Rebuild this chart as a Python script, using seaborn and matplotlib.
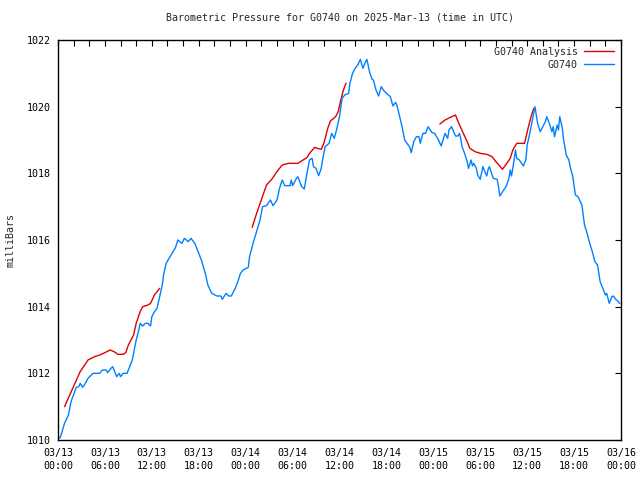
import numpy as np
import pandas as pd
import matplotlib
matplotlib.use("Agg")
import matplotlib.pyplot as plt
import matplotlib.dates as mdates
import seaborn as sns

# ---------------- data ----------------
start = pd.Timestamp("2025-03-13 00:00")

# G0740 observations: minutes after 03/13 00:00 UTC, pressure (mb)
obs_minutes = [10, 20, 50, 80, 100, 140, 160, 170, 190, 210, 230, 270, 320, 340, 370, 380, 400, 420,
               450, 470, 480, 500, 530, 550, 570, 590, 600, 620, 630, 650, 670, 690, 710, 720, 740,
               760, 780, 800, 810, 830, 860, 900, 920, 950, 970, 1000, 1020, 1050, 1070, 1100, 1130,
               1150, 1180, 1220, 1250, 1260, 1290, 1310, 1330, 1360, 1380, 1400, 1420, 1460, 1470,
               1500, 1520, 1550, 1570, 1600, 1630, 1650, 1680, 1700, 1720, 1740, 1780, 1790, 1800,
               1830, 1840, 1870, 1890, 1910, 1930, 1950, 1960, 1980, 2000, 2020, 2030, 2050, 2080,
               2100, 2120, 2140, 2160, 2180, 2200, 2230, 2240, 2260, 2280, 2300, 2320, 2340, 2360,
               2370, 2390, 2410, 2420, 2440, 2460, 2480, 2500, 2520, 2550, 2570, 2590, 2600, 2620,
               2640, 2660, 2700, 2710, 2730, 2750, 2770, 2780, 2800, 2820, 2840, 2870, 2890, 2920,
               2940, 2970, 2990, 3000, 3020, 3030, 3050, 3070, 3080, 3090, 3100, 3120, 3140, 3150,
               3170, 3180, 3190, 3210, 3220, 3240, 3260, 3270, 3290, 3300, 3310, 3340, 3370, 3380,
               3390, 3420, 3440, 3460, 3470, 3480, 3500, 3510, 3520, 3540, 3570, 3590, 3600, 3620,
               3630, 3650, 3660, 3670, 3680, 3700, 3720, 3740, 3750, 3770, 3790, 3800, 3810, 3830,
               3840, 3850, 3870, 3880, 3900, 3920, 3930, 3950, 3970, 3990, 4020, 4040, 4060, 4080,
               4100, 4120, 4140, 4160, 4180, 4200, 4210, 4220, 4230, 4250, 4260, 4280, 4300, 4310]
obs_pressure = [1010.05, 1010.1, 1010.5, 1010.75, 1011.15, 1011.58, 1011.6, 1011.7, 1011.58, 1011.7,
                1011.85, 1012.0, 1012.0, 1012.1, 1012.1, 1012.02, 1012.12, 1012.2, 1011.9, 1012.0,
                1011.9, 1012.0, 1012.0, 1012.2, 1012.4, 1012.8, 1013.0, 1013.3, 1013.5, 1013.42,
                1013.5, 1013.5, 1013.42, 1013.7, 1013.85, 1013.95, 1014.3, 1014.65, 1014.95, 1015.3,
                1015.5, 1015.76, 1016.0, 1015.9, 1016.05, 1015.95, 1016.05, 1015.9, 1015.7, 1015.4,
                1015.0, 1014.65, 1014.4, 1014.32, 1014.32, 1014.22, 1014.4, 1014.32, 1014.32,
                1014.55, 1014.75, 1015.0, 1015.1, 1015.18, 1015.5, 1015.95, 1016.2, 1016.6, 1017.0,
                1017.03, 1017.2, 1017.03, 1017.2, 1017.55, 1017.8, 1017.63, 1017.63, 1017.8,
                1017.63, 1017.85, 1017.9, 1017.6, 1017.53, 1018.0, 1018.4, 1018.45, 1018.2,
                1018.15, 1017.93, 1018.15, 1018.4, 1018.8, 1018.9, 1019.2, 1019.05, 1019.35,
                1019.7, 1020.25, 1020.35, 1020.4, 1020.7, 1021.0, 1021.15, 1021.25, 1021.42,
                1021.15, 1021.35, 1021.42, 1021.05, 1020.82, 1020.8, 1020.5, 1020.32, 1020.6,
                1020.48, 1020.4, 1020.3, 1020.02, 1020.13, 1020.05, 1019.72, 1019.4, 1019.0,
                1018.78, 1018.62, 1018.95, 1019.1, 1019.1, 1018.9, 1019.2, 1019.2, 1019.4, 1019.22,
                1019.2, 1019.0, 1018.82, 1019.2, 1019.05, 1019.3, 1019.4, 1019.3, 1019.12, 1019.12,
                1019.2, 1019.05, 1018.8, 1018.6, 1018.35, 1018.15, 1018.4, 1018.22, 1018.3, 1018.15,
                1017.95, 1017.82, 1018.2, 1018.1, 1017.92, 1018.12, 1018.2, 1017.85, 1017.82,
                1017.6, 1017.32, 1017.5, 1017.62, 1017.85, 1018.1, 1017.92, 1018.4, 1018.7, 1018.45,
                1018.4, 1018.22, 1018.4, 1018.85, 1019.2, 1019.4, 1019.8, 1020.0, 1019.75, 1019.5,
                1019.25, 1019.4, 1019.55, 1019.7, 1019.5, 1019.25, 1019.4, 1019.1, 1019.45, 1019.3,
                1019.7, 1019.35, 1019.0, 1018.55, 1018.4, 1018.2, 1017.9, 1017.35, 1017.3, 1017.05,
                1016.45, 1016.2, 1015.9, 1015.65, 1015.35, 1015.25, 1014.75, 1014.55, 1014.35,
                1014.4, 1014.25, 1014.1, 1014.3, 1014.32, 1014.22, 1014.15, 1014.1]

# G0740 Analysis: three 12-hour runs
ana1_minutes = [50, 90, 130, 170, 210, 230, 280, 320, 360, 400, 430, 460, 500, 520, 540, 580, 600,
                630, 650, 690, 710, 740, 780]
ana1_pressure = [1011.0, 1011.35, 1011.7, 1012.05, 1012.28, 1012.4, 1012.5, 1012.55, 1012.62, 1012.7,
                 1012.65, 1012.57, 1012.57, 1012.62, 1012.85, 1013.15, 1013.5, 1013.85, 1014.0,
                 1014.05, 1014.1, 1014.35, 1014.55]
ana2_minutes = [1490, 1520, 1560, 1600, 1640, 1680, 1720, 1770, 1840, 1880, 1910, 1930, 1970, 1990,
                2020, 2040, 2070, 2090, 2130, 2150, 2170, 2190, 2210]
ana2_pressure = [1016.38, 1016.75, 1017.2, 1017.65, 1017.82, 1018.05, 1018.25, 1018.3, 1018.3, 1018.4,
                 1018.47, 1018.6, 1018.78, 1018.75, 1018.72, 1018.9, 1019.35, 1019.57, 1019.7,
                 1019.85, 1020.2, 1020.5, 1020.7]
ana3_minutes = [2930, 2970, 3010, 3050, 3070, 3110, 3140, 3160, 3200, 3240, 3290, 3330, 3360, 3390,
                3410, 3440, 3470, 3490, 3520, 3580, 3610, 3630, 3650]
ana3_pressure = [1019.48, 1019.6, 1019.68, 1019.75, 1019.55, 1019.2, 1018.95, 1018.75, 1018.65, 1018.6,
                 1018.57, 1018.5, 1018.35, 1018.22, 1018.12, 1018.28, 1018.45, 1018.7, 1018.9,
                 1018.9, 1019.4, 1019.7, 1019.95]

title = "Barometric Pressure for G0740 on 2025-Mar-13 (time in UTC)"
ylabel = "milliBars"
label_ana = "G0740 Analysis"
label_obs = "G0740"

# ---------------- frames ----------------
obs = pd.DataFrame({"time": start + pd.to_timedelta(obs_minutes, unit="min"),
                    "pressure": obs_pressure})
ana_frames = []
for mins, pres in [(ana1_minutes, ana1_pressure), (ana2_minutes, ana2_pressure),
                   (ana3_minutes, ana3_pressure)]:
    ana_frames.append(pd.DataFrame({"time": start + pd.to_timedelta(mins, unit="min"),
                                    "pressure": pres}))

# ---------------- plot ----------------
sns.set_style("white")
plt.rcParams["font.family"] = ["DejaVu Sans Mono", "DejaVu Sans"]
FS = 7.2

fig = plt.figure(figsize=(6.4, 4.8), dpi=100)
ax = fig.add_axes([58 / 640, 40 / 480, (621 - 58) / 640, 400 / 480])

red = "#e00000"
blue = "#0080ff"

for i, df in enumerate(ana_frames):
    sns.lineplot(data=df, x="time", y="pressure", ax=ax, color=red, linewidth=1.0,
                 label=label_ana if i == 0 else None, legend=False)
sns.lineplot(data=obs, x="time", y="pressure", ax=ax, color=blue, linewidth=1.0,
             label=label_obs, legend=False)

ax.set_xlim(start, start + pd.Timedelta(hours=72))
ax.set_ylim(1010, 1022)
ax.set_yticks(np.arange(1010, 1023, 2))
ax.yaxis.set_major_formatter(matplotlib.ticker.FormatStrFormatter("%d"))

ax.xaxis.set_major_locator(mdates.HourLocator(byhour=[0, 6, 12, 18]))
ax.xaxis.set_major_formatter(mdates.DateFormatter("%m/%d\n%H:%M"))
ax.xaxis.set_minor_locator(mdates.HourLocator(byhour=range(0, 24, 2)))

ax.tick_params(axis="both", which="both", direction="in", top=True, right=True,
               length=4, width=0.8, color="black", labelsize=FS, labelcolor="black")
ax.tick_params(axis="x", which="major", pad=6)
ax.tick_params(axis="y", which="major", pad=5)
for lab in ax.get_xticklabels():
    lab.set_linespacing(1.35)

for s in ax.spines.values():
    s.set_color("black")
    s.set_linewidth(1.0)

ax.set_xlabel("")
ax.set_ylabel(ylabel, fontsize=FS, labelpad=8)
ax.set_title(title, fontsize=FS, pad=14)
ax.grid(False)

leg = ax.legend(loc="upper right", frameon=False, fontsize=FS, markerfirst=False,
                alignment="right", handlelength=3.0, handletextpad=0.6, labelspacing=0.3,
                borderaxespad=0.25, borderpad=0.45)

fig.savefig("out.png", dpi=100)
